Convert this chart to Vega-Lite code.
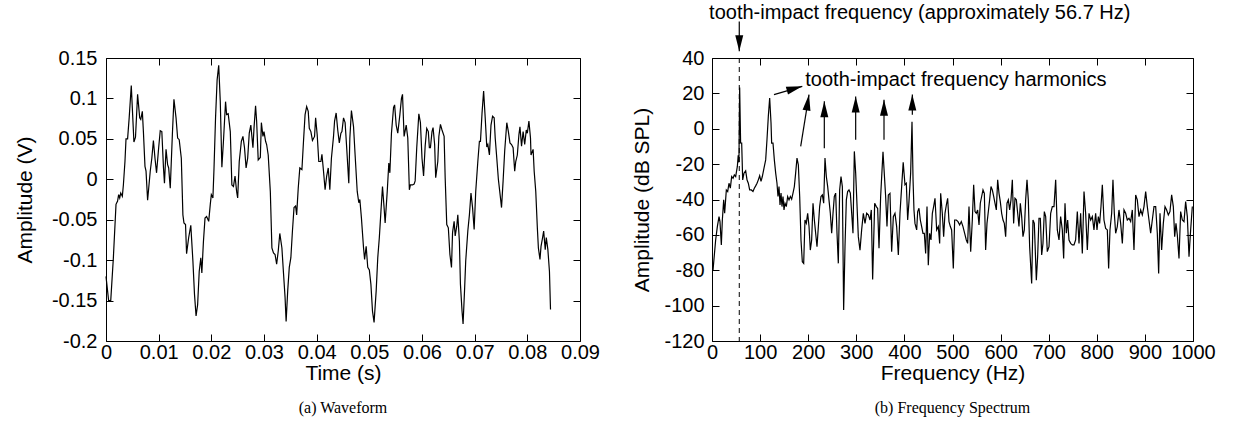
{
  "$schema": "https://vega.github.io/schema/vega-lite/v6.json",
  "background": "white",
  "padding": {"left": 13, "top": 2, "right": 5, "bottom": 5},
  "bounds": "flush",
  "spacing": 132,
  "datasets": {
    "wave": [
      {"t":0,"v":-0.12},{"t":0.0005,"v":-0.15},{"t":0.0009,"v":-0.15},{"t":0.0014,"v":-0.097},{"t":0.0019,"v":-0.031},{"t":0.0022,"v":-0.027},{"t":0.0024,"v":-0.019},{"t":0.0026,"v":-0.023},{"t":0.0028,"v":-0.017},{"t":0.0031,"v":-0.021},{"t":0.0033,"v":-0.007},{"t":0.0036,"v":0.022},{"t":0.0038,"v":0.05},{"t":0.0041,"v":0.05},{"t":0.0044,"v":0.076},{"t":0.0048,"v":0.116},{"t":0.005,"v":0.088},{"t":0.0053,"v":0.046},{"t":0.0056,"v":0.052},{"t":0.006,"v":0.105},{"t":0.0064,"v":0.076},{"t":0.0066,"v":0.074},{"t":0.0069,"v":0.084},{"t":0.0071,"v":0.059},{"t":0.0074,"v":0.016},{"t":0.0076,"v":0.01},{"t":0.0079,"v":-0.026},{"t":0.0084,"v":0.01},{"t":0.0087,"v":0.026},{"t":0.009,"v":0.048},{"t":0.0093,"v":0.026},{"t":0.0096,"v":0.008},{"t":0.01,"v":0.039},{"t":0.0103,"v":0.06},{"t":0.0106,"v":0.059},{"t":0.0109,"v":0.016},{"t":0.0111,"v":-0.005},{"t":0.0114,"v":0.037},{"t":0.0117,"v":0.018},{"t":0.0119,"v":0.014},{"t":0.0122,"v":-0.011},{"t":0.0126,"v":0.055},{"t":0.0129,"v":0.099},{"t":0.0133,"v":0.076},{"t":0.0136,"v":0.051},{"t":0.0139,"v":0.049},{"t":0.0143,"v":0.026},{"t":0.0146,"v":-0.044},{"t":0.0148,"v":-0.054},{"t":0.0151,"v":-0.056},{"t":0.0153,"v":-0.092},{"t":0.0157,"v":-0.072},{"t":0.0161,"v":-0.057},{"t":0.0165,"v":-0.101},{"t":0.0168,"v":-0.142},{"t":0.0171,"v":-0.169},{"t":0.0174,"v":-0.155},{"t":0.0177,"v":-0.114},{"t":0.018,"v":-0.097},{"t":0.0182,"v":-0.116},{"t":0.0185,"v":-0.077},{"t":0.0188,"v":-0.048},{"t":0.0191,"v":-0.046},{"t":0.0195,"v":-0.052},{"t":0.0198,"v":-0.031},{"t":0.02,"v":-0.019},{"t":0.0203,"v":-0.023},{"t":0.0205,"v":0.012},{"t":0.0208,"v":0.076},{"t":0.0211,"v":0.123},{"t":0.0214,"v":0.141},{"t":0.0217,"v":0.096},{"t":0.022,"v":0.015},{"t":0.0223,"v":0.047},{"t":0.0227,"v":0.096},{"t":0.0229,"v":0.08},{"t":0.0232,"v":0.081},{"t":0.0236,"v":0.059},{"t":0.0239,"v":-0.007},{"t":0.0242,"v":-0.009},{"t":0.0245,"v":0.004},{"t":0.0248,"v":-0.015},{"t":0.025,"v":-0.023},{"t":0.0253,"v":0.022},{"t":0.0257,"v":0.047},{"t":0.026,"v":0.053},{"t":0.0263,"v":0.039},{"t":0.0266,"v":0.014},{"t":0.0269,"v":0.026},{"t":0.0272,"v":0.057},{"t":0.0275,"v":0.067},{"t":0.0279,"v":0.039},{"t":0.0281,"v":0.063},{"t":0.0284,"v":0.091},{"t":0.0286,"v":0.072},{"t":0.0289,"v":0.024},{"t":0.0293,"v":0.027},{"t":0.0295,"v":0.07},{"t":0.0298,"v":0.053},{"t":0.03,"v":0.059},{"t":0.0303,"v":0.047},{"t":0.0305,"v":0.043},{"t":0.0308,"v":0.03},
      {"t":0.0312,"v":-0.015},{"t":0.0315,"v":-0.085},{"t":0.0318,"v":-0.091},{"t":0.0321,"v":-0.093},{"t":0.0324,"v":-0.105},{"t":0.0327,"v":-0.089},{"t":0.033,"v":-0.067},{"t":0.0334,"v":-0.085},{"t":0.0337,"v":-0.116},{"t":0.034,"v":-0.146},{"t":0.0342,"v":-0.176},{"t":0.0345,"v":-0.138},{"t":0.0348,"v":-0.109},{"t":0.0351,"v":-0.097},{"t":0.0354,"v":-0.064},{"t":0.0357,"v":-0.035},{"t":0.036,"v":-0.033},{"t":0.0362,"v":-0.044},{"t":0.0365,"v":-0.011},{"t":0.0368,"v":0.014},{"t":0.0372,"v":0.012},{"t":0.0375,"v":0.047},{"t":0.0378,"v":0.08},{"t":0.0381,"v":0.09},{"t":0.0384,"v":0.084},{"t":0.0386,"v":0.063},{"t":0.0389,"v":0.059},{"t":0.0392,"v":0.048},{"t":0.0396,"v":0.053},{"t":0.0398,"v":0.076},{"t":0.0401,"v":0.055},{"t":0.0404,"v":0.022},{"t":0.0408,"v":0.022},{"t":0.041,"v":0.031},{"t":0.0413,"v":0.01},{"t":0.0416,"v":-0.013},{"t":0.0419,"v":0.004},{"t":0.0422,"v":0.014},{"t":0.0425,"v":-0.013},{"t":0.0428,"v":0.026},{"t":0.0432,"v":0.053},{"t":0.0434,"v":0.072},{"t":0.0437,"v":0.082},{"t":0.044,"v":0.061},{"t":0.0443,"v":0.045},{"t":0.0446,"v":0.057},{"t":0.0448,"v":0.059},{"t":0.0451,"v":0.076},{"t":0.0454,"v":0.07},{"t":0.0457,"v":0.039},{"t":0.0461,"v":-0.005},{"t":0.0463,"v":0.051},{"t":0.0466,"v":0.085},{"t":0.047,"v":0.065},{"t":0.0473,"v":0.03},{"t":0.0477,"v":-0.015},{"t":0.048,"v":-0.029},{"t":0.0482,"v":-0.025},{"t":0.0485,"v":-0.048},{"t":0.0489,"v":-0.085},{"t":0.0491,"v":-0.099},{"t":0.0494,"v":-0.083},{"t":0.0497,"v":-0.109},{"t":0.05,"v":-0.112},{"t":0.0503,"v":-0.13},{"t":0.0506,"v":-0.163},{"t":0.0509,"v":-0.177},{"t":0.0513,"v":-0.138},{"t":0.0516,"v":-0.097},{"t":0.0519,"v":-0.072},{"t":0.0522,"v":-0.04},{"t":0.0525,"v":-0.009},{"t":0.0528,"v":-0.035},{"t":0.053,"v":-0.054},{"t":0.0534,"v":-0.015},{"t":0.0537,"v":0.02},{"t":0.0539,"v":0.008},{"t":0.0542,"v":0.057},{"t":0.0546,"v":0.089},{"t":0.0548,"v":0.092},{"t":0.0551,"v":0.067},{"t":0.0554,"v":0.057},{"t":0.0558,"v":0.08},{"t":0.0561,"v":0.1},{"t":0.0563,"v":0.105},{"t":0.0566,"v":0.053},{"t":0.057,"v":0.067},{"t":0.0573,"v":0.051},{"t":0.0576,"v":-0.013},{"t":0.0578,"v":-0.007},{"t":0.0582,"v":-0.007},{"t":0.0585,"v":-0.006},{"t":0.0587,"v":-0.002},{"t":0.059,"v":0.039},{"t":0.0594,"v":0.081},{"t":0.0597,"v":0.07},{"t":0.06,"v":0.026},{"t":0.0603,"v":0.004},{"t":0.0606,"v":0.041},{"t":0.0609,"v":0.063},{"t":0.0612,"v":0.059},
      {"t":0.0614,"v":0.039},{"t":0.0616,"v":0.039},{"t":0.0619,"v":0.059},{"t":0.0621,"v":0.064},{"t":0.0624,"v":0.043},{"t":0.0626,"v":0.002},{"t":0.063,"v":0.022},{"t":0.0632,"v":0.053},{"t":0.0635,"v":0.068},{"t":0.0638,"v":0.061},{"t":0.0642,"v":0.053},{"t":0.0644,"v":0.002},{"t":0.0647,"v":-0.056},{"t":0.065,"v":-0.06},{"t":0.0653,"v":-0.093},{"t":0.0656,"v":-0.109},{"t":0.0658,"v":-0.066},{"t":0.0661,"v":-0.052},{"t":0.0663,"v":-0.07},{"t":0.0666,"v":-0.058},{"t":0.0668,"v":-0.044},{"t":0.0671,"v":-0.077},{"t":0.0673,"v":-0.13},{"t":0.0676,"v":-0.163},{"t":0.0678,"v":-0.179},{"t":0.0681,"v":-0.134},{"t":0.0683,"v":-0.101},{"t":0.0687,"v":-0.064},{"t":0.069,"v":-0.044},{"t":0.0693,"v":-0.017},{"t":0.0696,"v":-0.035},{"t":0.0699,"v":-0.062},{"t":0.0702,"v":-0.015},{"t":0.0706,"v":0.022},{"t":0.0709,"v":0.047},{"t":0.0711,"v":0.047},{"t":0.0714,"v":0.082},{"t":0.0717,"v":0.109},{"t":0.072,"v":0.076},{"t":0.0723,"v":0.04},{"t":0.0725,"v":0.043},{"t":0.0728,"v":0.03},{"t":0.0731,"v":0.067},{"t":0.0734,"v":0.078},{"t":0.0737,"v":0.076},{"t":0.0739,"v":0.051},{"t":0.0742,"v":0.026},{"t":0.0745,"v":0},{"t":0.0749,"v":-0.023},{"t":0.0751,"v":-0.035},{"t":0.0754,"v":-0.002},{"t":0.0757,"v":0.035},{"t":0.0761,"v":0.07},{"t":0.0764,"v":0.059},{"t":0.0767,"v":0.045},{"t":0.077,"v":0.043},{"t":0.0773,"v":0.039},{"t":0.0776,"v":0.01},{"t":0.0778,"v":0.022},{"t":0.0781,"v":0.03},{"t":0.0784,"v":0.055},{"t":0.0786,"v":0.065},{"t":0.0789,"v":0.041},{"t":0.0792,"v":0.059},{"t":0.0795,"v":0.043},{"t":0.0798,"v":0.061},{"t":0.08,"v":0.057},{"t":0.0803,"v":0.072},{"t":0.0806,"v":0.051},{"t":0.0807,"v":0.03},{"t":0.0811,"v":0.037},{"t":0.0813,"v":0.01},{"t":0.0816,"v":-0.015},{"t":0.0819,"v":-0.06},{"t":0.0821,"v":-0.085},{"t":0.0824,"v":-0.099},{"t":0.0826,"v":-0.083},{"t":0.0829,"v":-0.072},{"t":0.0831,"v":-0.064},{"t":0.0834,"v":-0.087},{"t":0.0836,"v":-0.072},{"t":0.0839,"v":-0.087},{"t":0.0842,"v":-0.114},{"t":0.0844,"v":-0.161}
    ],
    "spec": [
      {"f":2.1,"d":-79.9},{"f":7.6,"d":-62.9},{"f":11.1,"d":-55.3},{"f":14.6,"d":-49.7},{"f":16.6,"d":-52.5},{"f":19.4,"d":-65.7},{"f":21.5,"d":-51.6},{"f":24.3,"d":-40.2},{"f":26.3,"d":-47.8},{"f":29.8,"d":-34.6},{"f":32.6,"d":-35.5},{"f":35.3,"d":-30.8},{"f":38.1,"d":-33.6},{"f":40.9,"d":-27},{"f":43.7,"d":-28},{"f":46.4,"d":-26.1},{"f":49.2,"d":-27},{"f":52.7,"d":-21.3},{"f":54.5,"d":-15},{"f":56,"d":-19},{"f":57.5,"d":23.3},{"f":59.5,"d":-8},{"f":61.7,"d":-8.1},{"f":63.8,"d":-28.9},{"f":66.5,"d":-25.1},{"f":70,"d":-23.8},{"f":72.8,"d":-28.9},{"f":75.5,"d":-30.8},{"f":78.3,"d":-34.6},{"f":81.8,"d":-34.6},{"f":85.2,"d":-35.5},{"f":88,"d":-33.6},{"f":90.8,"d":-32.3},{"f":93.6,"d":-30.8},{"f":96.3,"d":-28.9},{"f":99.1,"d":-26.6},{"f":101.9,"d":-29.8},{"f":104.6,"d":-27},{"f":108.1,"d":-22.3},{"f":111.6,"d":-17.6},{"f":114.3,"d":-6.2},{"f":117.1,"d":7},{"f":119.9,"d":17.4},{"f":122.7,"d":3.2},{"f":124,"d":-8.1},{"f":126.8,"d":-8.1},{"f":129.6,"d":-17.6},{"f":132.4,"d":-25.1},{"f":135.1,"d":-30.8},{"f":137.2,"d":-38.3},{"f":139.3,"d":-32.7},{"f":141.4,"d":-43.1},{"f":143.5,"d":-36.4},{"f":145.5,"d":-44},{"f":147.6,"d":-38.3},{"f":149.7,"d":-45.9},{"f":151.8,"d":-42.1},{"f":154.5,"d":-44},{"f":157.3,"d":-38.3},{"f":160.1,"d":-40.2},{"f":162.9,"d":-38.3},{"f":165.6,"d":-39.8},{"f":168.4,"d":-36.4},{"f":171.2,"d":-32.7},{"f":173.9,"d":-25.1},{"f":176.7,"d":-16.6},{"f":179.5,"d":-20.4},{"f":182.3,"d":-38.3},{"f":185,"d":-62.9},{"f":187.8,"d":-75.2},{"f":190.6,"d":-76.1},{"f":193.3,"d":-51.6},{"f":196.1,"d":-53.4},{"f":198.9,"d":-47.8},{"f":201.7,"d":-55.3},{"f":204.4,"d":-68.6},{"f":207.2,"d":-62.9},{"f":210,"d":-42.1},{"f":212.8,"d":-51.6},{"f":215.5,"d":-59.1},{"f":218.3,"d":-66.7},{"f":221.1,"d":-55.3},{"f":223.8,"d":-44},{"f":226.6,"d":-38.3},{"f":229.4,"d":-37.4},{"f":232.2,"d":-42.1},{"f":234.9,"d":-16.6},{"f":237.7,"d":-27},{"f":240.5,"d":-32.7},{"f":243.2,"d":-40.2},{"f":246,"d":-47.8},{"f":248.8,"d":-59.1},{"f":251.6,"d":-47.8},{"f":254.3,"d":-38.3},{"f":257.1,"d":-36.4},{"f":259.9,"d":-59.1},{"f":262.6,"d":-76.1},{"f":265.4,"d":-34.6},{"f":268.2,"d":-27},{"f":271,"d":-32.7},{"f":273.7,"d":-102.5},{"f":276.5,"d":-66.7},{"f":279.3,"d":-40.2},{"f":282,"d":-35.5},{"f":284.8,"d":-34.6},{"f":287.6,"d":-36.4},{"f":290.4,"d":-47.8},{"f":293.1,"d":-59.1},{"f":295.9,"d":-12.8},{"f":298.7,"d":-25.1},
      {"f":304.2,"d":-61},{"f":307.7,"d":-68.6},{"f":311.1,"d":-57.2},{"f":314.6,"d":-47.8},{"f":318.1,"d":-53.5},{"f":321.5,"d":-47.8},{"f":325,"d":-48.7},{"f":328.5,"d":-51.6},{"f":331.2,"d":-45.9},{"f":334,"d":-85.2},{"f":338.2,"d":-42.1},{"f":341.6,"d":-44},{"f":344.4,"d":-45},{"f":347.2,"d":-67.6},{"f":350.6,"d":-38.3},{"f":355.5,"d":-13},{"f":361,"d":-38.3},{"f":363.8,"d":-55.3},{"f":366.6,"d":-37.4},{"f":370,"d":-36.5},{"f":373.5,"d":-69.5},{"f":377,"d":-49.7},{"f":380.4,"d":-47.8},{"f":383.9,"d":-55.3},{"f":387.4,"d":-71.4},{"f":390.8,"d":-47.8},{"f":394.3,"d":-32.7},{"f":397.5,"d":-19},{"f":401.2,"d":-31.7},{"f":404,"d":-30.8},{"f":406.8,"d":-51.6},{"f":409.5,"d":-41.2},{"f":413,"d":-25},{"f":415.8,"d":4},{"f":418,"d":-29},{"f":419.9,"d":-45.9},{"f":422,"d":-53.5},{"f":425.5,"d":-57.2},{"f":427.6,"d":-46.8},{"f":430.3,"d":-45},{"f":433.1,"d":-51.6},{"f":435.9,"d":-55.3},{"f":438.6,"d":-59.1},{"f":441.4,"d":-59.1},{"f":444.2,"d":-70.5},{"f":447,"d":-44},{"f":449.7,"d":-77.1},{"f":452.5,"d":-59.1},{"f":455.3,"d":-62.9},{"f":458.1,"d":-47.8},{"f":460.8,"d":-44},{"f":463.6,"d":-39.3},{"f":467.1,"d":-57.2},{"f":470.5,"d":-55.3},{"f":473.3,"d":-64.8},{"f":475.4,"d":-36.5},{"f":478.8,"d":-47.8},{"f":481.6,"d":-61},{"f":484.4,"d":-47.8},{"f":487.2,"d":-43.1},{"f":489.9,"d":-39.3},{"f":492.7,"d":-52.5},{"f":495.5,"d":-55.3},{"f":498.2,"d":-57.2},{"f":501.7,"d":-79},{"f":504.5,"d":-51.6},{"f":508,"d":-51.6},{"f":511.4,"d":-52.5},{"f":514.9,"d":-54.4},{"f":518.3,"d":-52.5},{"f":521.8,"d":-55.3},{"f":525.3,"d":-59.1},{"f":528.7,"d":-62.9},{"f":531.5,"d":-64.8},{"f":534.3,"d":-44},{"f":537.8,"d":-69.5},{"f":541.2,"d":-51.6},{"f":544,"d":-31.7},{"f":546.8,"d":-46.8},{"f":549.5,"d":-47.8},{"f":552.3,"d":-45.9},{"f":555.1,"d":-54.4},{"f":557.8,"d":-42.1},{"f":560.6,"d":-38.3},{"f":563.4,"d":-34.6},{"f":566.2,"d":-36.5},{"f":568.9,"d":-68.6},{"f":571.7,"d":-53.5},{"f":574.5,"d":-46.8},{"f":577.2,"d":-40.2},{"f":580,"d":-32.7},{"f":582.8,"d":-34.6},{"f":585.6,"d":-38.3},{"f":588.3,"d":-42.1},{"f":591.1,"d":-45.9},{"f":593.9,"d":-28.9},{"f":596.7,"d":-36.5},{"f":599.4,"d":-41.2},{"f":602.2,"d":-47.8},{"f":605,"d":-51.6},{"f":607.7,"d":-53.5},{"f":610.5,"d":-61},{"f":613.3,"d":-42.1},{"f":616.1,"d":-40.2},{"f":618.8,"d":-45.9},{"f":621.6,"d":-40.2},{"f":624.4,"d":-28.9},{"f":627.1,"d":-53.5},{"f":629.9,"d":-39.3},{"f":632.7,"d":-40.2},{"f":635.5,"d":-47.8},{"f":638.2,"d":-55.3},{"f":641,"d":-42.1},{"f":643.8,"d":-49.7},{"f":646.5,"d":-61},{"f":649.3,"d":-57.2},{"f":652.1,"d":-40.2},{"f":654.9,"d":-28.9},{"f":657.6,"d":-40.2},{"f":660.4,"d":-66.7},{"f":664.6,"d":-87.5},{"f":667.3,"d":-51.6},{"f":670.1,"d":-53.5},{"f":674.3,"d":-85.6},{"f":677,"d":-72.3},{"f":679.8,"d":-50.6},{"f":682.6,"d":-50.6},{"f":685.4,"d":-71.4},{"f":688.1,"d":-64.8},{"f":690.9,"d":-46.8},{"f":693.7,"d":-49.7},{"f":697.1,"d":-69.5},{"f":700.6,"d":-66.7},
      {"f":704.1,"d":-47.8},{"f":707.5,"d":-44},{"f":711,"d":-44},{"f":714.5,"d":-28.9},{"f":717.9,"d":-57.2},{"f":721.4,"d":-62.9},{"f":724.8,"d":-49.7},{"f":728.3,"d":-57.2},{"f":731.1,"d":-73.3},{"f":733.9,"d":-42.1},{"f":736.6,"d":-59.1},{"f":739.4,"d":-51.6},{"f":742.2,"d":-62.9},{"f":745.6,"d":-64.8},{"f":749.1,"d":-65.7},{"f":752.6,"d":-65.7},{"f":756,"d":-62.9},{"f":759.5,"d":-46.8},{"f":763,"d":-64.8},{"f":766.4,"d":-47.8},{"f":769.9,"d":-70.5},{"f":773.4,"d":-35.5},{"f":776.8,"d":-47.8},{"f":780.3,"d":-68.6},{"f":783.8,"d":-47.8},{"f":787.2,"d":-51.6},{"f":790.7,"d":-49.7},{"f":794.1,"d":-57.2},{"f":797.6,"d":-47.8},{"f":800.4,"d":-57.2},{"f":803.2,"d":-49.7},{"f":805.9,"d":-53.5},{"f":808.7,"d":-44},{"f":811.5,"d":-31.7},{"f":814.9,"d":-51.6},{"f":818.4,"d":-56.3},{"f":821.9,"d":-57.2},{"f":824.6,"d":-79},{"f":827.4,"d":-57.2},{"f":830.9,"d":-47.8},{"f":833.6,"d":-28.9},{"f":836.4,"d":-47.8},{"f":839.2,"d":-59.1},{"f":842.6,"d":-55.3},{"f":846.1,"d":-45.9},{"f":849.6,"d":-53.5},{"f":853.1,"d":-64.8},{"f":856.5,"d":-45.9},{"f":860,"d":-47.8},{"f":863.4,"d":-51.6},{"f":866.9,"d":-50.6},{"f":870.4,"d":-52.5},{"f":873.8,"d":-45.9},{"f":877.3,"d":-68.6},{"f":880.8,"d":-37.4},{"f":884.2,"d":-40.2},{"f":887.7,"d":-49.7},{"f":891.2,"d":-45.9},{"f":894.6,"d":-48.7},{"f":898.1,"d":-44},{"f":901.6,"d":-35.5},{"f":905,"d":-44},{"f":908.5,"d":-51.6},{"f":912,"d":-59.1},{"f":915.4,"d":-51.6},{"f":918.9,"d":-44},{"f":922.4,"d":-44},{"f":925.8,"d":-59.1},{"f":928.6,"d":-81.8},{"f":931.4,"d":-47.8},{"f":934.8,"d":-68.6},{"f":938.3,"d":-53.5},{"f":941.8,"d":-44},{"f":945.2,"d":-45.9},{"f":948.7,"d":-48.7},{"f":952.1,"d":-46.8},{"f":955.6,"d":-37.4},{"f":959.1,"d":-44},{"f":961.9,"d":-61},{"f":964.6,"d":-53.5},{"f":967.4,"d":-60.1},{"f":970.9,"d":-73.3},{"f":974.3,"d":-46.8},{"f":977.8,"d":-51.6},{"f":981.3,"d":-52.5},{"f":984.7,"d":-41.2},{"f":988.2,"d":-49.7},{"f":991.7,"d":-72.3},{"f":995.1,"d":-57.2},{"f":998.6,"d":-44}
    ],
    "arrows": [
      {"f0":56.7,"d0":60.6,"f1":56.7,"d1":43.8},
      {"f0":128.9,"d0":19.3,"f1":187.7,"d1":24.0},
      {"f0":184.4,"d0":-10.0,"f1":201.7,"d1":19.3},
      {"f0":233.5,"d0":-11.0,"f1":233.5,"d1":15.5},
      {"f0":298.7,"d0":-6.2,"f1":298.7,"d1":18.3},
      {"f0":357.6,"d0":-6.2,"f1":357.6,"d1":16.4},
      {"f0":416.5,"d0":7.9,"f1":416.5,"d1":19.3}
    ]
  },
  "hconcat": [
    {
      "width": 474,
      "height": 283,
      "data": {"name": "wave"},
      "title": {"text": "(a) Waveform", "orient": "bottom", "frame": "group", "offset": 17},
      "layer": [
        {
          "mark": {"type": "line", "color": "black", "strokeWidth": 1.2},
          "encoding": {
            "x": {"field": "t", "type": "quantitative", "scale": {"domain": [0, 0.09], "nice": false, "zero": false},
                  "axis": {"orient": "bottom", "title": "Time (s)", "values": [0,0.01,0.02,0.03,0.04,0.05,0.06,0.07,0.08,0.09], "labelExpr": "replace(format(datum.value, '~g'), '\u2212', '-')", "labelPadding": 8, "titlePadding": 0}},
            "y": {"field": "v", "type": "quantitative", "scale": {"domain": [-0.2, 0.15], "nice": false, "zero": false},
                  "axis": {"orient": "left", "title": "Amplitude (V)", "values": [-0.2,-0.15,-0.1,-0.05,0,0.05,0.1,0.15], "labelExpr": "replace(format(datum.value, '~g'), '\u2212', '-')", "labelPadding": 16, "titlePadding": 16}}
          }
        },
        {
          "mark": {"type": "line", "opacity": 0},
          "encoding": {
            "x": {"field": "t", "type": "quantitative", "axis": {"orient": "top", "labels": false, "title": null, "values": [0,0.01,0.02,0.03,0.04,0.05,0.06,0.07,0.08,0.09]}},
            "y": {"field": "v", "type": "quantitative", "axis": {"orient": "right", "labels": false, "title": null, "values": [-0.2,-0.15,-0.1,-0.05,0,0.05,0.1,0.15]}}
          }
        }
      ],
      "resolve": {"axis": {"x": "independent", "y": "independent"}}
    },
    {
      "width": 481,
      "height": 283,
      "title": {"text": "(b) Frequency Spectrum", "orient": "bottom", "frame": "group", "offset": 17},
      "layer": [
        {
          "data": {"name": "spec"},
          "mark": {"type": "line", "color": "black", "strokeWidth": 1.2},
          "encoding": {
            "x": {"field": "f", "type": "quantitative", "scale": {"domain": [0, 1000], "nice": false, "zero": false},
                  "axis": {"orient": "bottom", "title": "Frequency (Hz)", "values": [0,100,200,300,400,500,600,700,800,900,1000], "labelExpr": "format(datum.value, 'd')", "labelPadding": 8, "titlePadding": 0}},
            "y": {"field": "d", "type": "quantitative", "scale": {"domain": [-120, 40], "nice": false, "zero": false},
                  "axis": {"orient": "left", "title": "Amplitude (dB SPL)", "values": [-120,-100,-80,-60,-40,-20,0,20,40], "labelExpr": "replace(format(datum.value, 'd'), '\u2212', '-')", "labelPadding": 15, "titlePadding": 11}}
          }
        },
        {
          "data": {"name": "spec"},
          "mark": {"type": "line", "opacity": 0},
          "encoding": {
            "x": {"field": "f", "type": "quantitative", "axis": {"orient": "top", "labels": false, "title": null, "values": [0,100,200,300,400,500,600,700,800,900,1000]}},
            "y": {"field": "d", "type": "quantitative", "axis": {"orient": "right", "labels": false, "title": null, "values": [-120,-100,-80,-60,-40,-20,0,20,40]}}
          }
        },
        {
          "data": {"values": [{"f": 56.7}]},
          "mark": {"type": "rule", "color": "black", "strokeWidth": 1, "strokeDash": [5, 4]},
          "encoding": {"x": {"field": "f", "type": "quantitative", "axis": null}}
        },
        {
          "data": {"name": "arrows"},
          "mark": {"type": "rule", "color": "black", "strokeWidth": 1.2, "clip": false},
          "encoding": {
            "x": {"field": "f0", "type": "quantitative", "axis": null},
            "y": {"field": "d0", "type": "quantitative", "axis": null},
            "x2": {"field": "f1"},
            "y2": {"field": "d1"}
          }
        },
        {
          "data": {"name": "arrows"},
          "transform": [{"filter": "datum.f0 == datum.f1 && datum.d1 > datum.d0"}],
          "mark": {"type": "point", "shape": "M0,0L-1,4L1,4Z", "size": 64, "filled": true, "color": "black", "opacity": 1, "strokeWidth": 0, "clip": false},
          "encoding": {
            "x": {"field": "f1", "type": "quantitative", "axis": null},
            "y": {"field": "d1", "type": "quantitative", "axis": null}
          }
        },
        {
          "data": {"name": "arrows"},
          "transform": [{"filter": "datum.d1 < datum.d0"}],
          "mark": {"type": "point", "shape": "M0,0L-1,4L1,4Z", "size": 64, "filled": true, "color": "black", "opacity": 1, "strokeWidth": 0, "angle": 180, "clip": false},
          "encoding": {
            "x": {"field": "f1", "type": "quantitative", "axis": null},
            "y": {"field": "d1", "type": "quantitative", "axis": null}
          }
        },
        {
          "data": {"name": "arrows"},
          "transform": [{"filter": "datum.f0 > 100 && datum.f0 < 150"}],
          "mark": {"type": "point", "shape": "M0,0L-1,4L1,4Z", "size": 64, "filled": true, "color": "black", "opacity": 1, "strokeWidth": 0, "angle": 74, "clip": false},
          "encoding": {
            "x": {"field": "f1", "type": "quantitative", "axis": null},
            "y": {"field": "d1", "type": "quantitative", "axis": null}
          }
        },
        {
          "data": {"name": "arrows"},
          "transform": [{"filter": "datum.f0 > 150 && datum.f0 < 200"}],
          "mark": {"type": "point", "shape": "M0,0L-1,4L1,4Z", "size": 64, "filled": true, "color": "black", "opacity": 1, "strokeWidth": 0, "angle": 9, "clip": false},
          "encoding": {
            "x": {"field": "f1", "type": "quantitative", "axis": null},
            "y": {"field": "d1", "type": "quantitative", "axis": null}
          }
        },
        {
          "data": {"values": [
            {"f": -6, "d": 65.4, "label": "tooth-impact frequency (approximately 56.7 Hz)"},
            {"f": 194, "d": 27.8, "label": "tooth-impact frequency harmonics"}
          ]},
          "mark": {"type": "text", "align": "left", "baseline": "middle", "font": "Liberation Sans", "fontSize": 20, "color": "black", "clip": false},
          "encoding": {
            "x": {"field": "f", "type": "quantitative", "axis": null},
            "y": {"field": "d", "type": "quantitative", "axis": null},
            "text": {"field": "label"}
          }
        }
      ],
      "resolve": {"axis": {"x": "independent", "y": "independent"}}
    }
  ],
  "config": {
    "font": "Liberation Sans",
    "view": {"stroke": "black", "strokeWidth": 1},
    "axis": {
      "domain": false, "grid": false, "ticks": true, "tickColor": "black", "tickSize": -7, "tickWidth": 1,
      "labelFont": "Liberation Sans", "labelFontSize": 20, "labelColor": "black",
      "labelFlush": false, "labelOverlap": false,
      "titleFont": "Liberation Sans", "titleFontSize": 21, "titleFontWeight": "normal", "titleColor": "black"
    },
    "title": {"font": "Liberation Serif", "fontSize": 16, "fontWeight": "normal", "color": "black"}
  }
}
